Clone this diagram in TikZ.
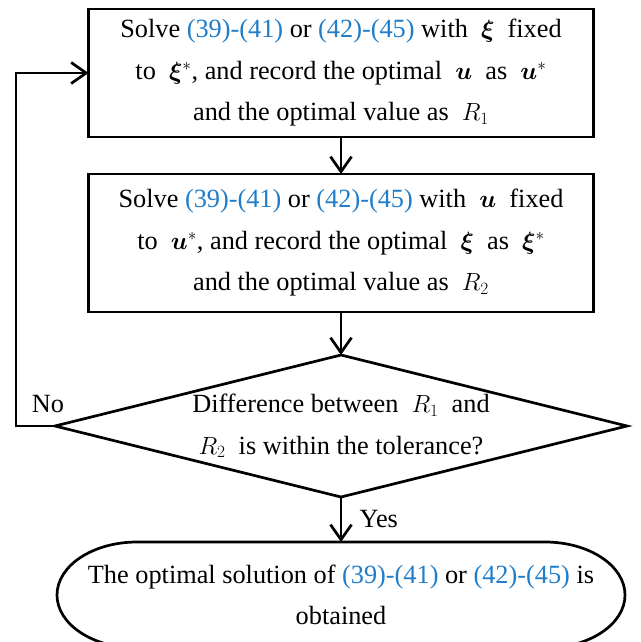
\documentclass[tikz,border=0pt]{standalone}
\usepackage{amsmath,bm}
\usepackage{fontspec}
\setmainfont{Liberation Serif}
\usepackage{xcolor}
\usepackage{tikz}
\usetikzlibrary{arrows.meta,calc,positioning,shapes.geometric}
\definecolor{refblue}{RGB}{31,125,201}
\newcommand{\bxi}{\bm{\xi}}
\newcommand{\bu}{\bm{u}}
\newcommand{\refno}[1]{\textcolor{refblue}{#1}}
\tikzset{line/.style={line width=2.7pt},
  box/.style={draw,line,align=center,minimum width=505pt,inner sep=0pt,outer sep=0pt},
  decision/.style={draw,line,diamond,aspect=4,align=center,minimum width=572pt,minimum height=142pt,inner sep=0pt,outer sep=0pt},
  arr/.style={line,-{Straight Barb[length=15pt,width=21pt]}}}

\begin{document}
\begin{tikzpicture}[x=1pt,y=1pt,font=\fontsize{26.3}{41.5}\selectfont]
\useasboundingbox (0,0) rectangle (640,-642);
\node[box,minimum height=128pt] (sol1) at (341,-73)
  {Solve \refno{(39)-(41)} or \refno{(42)-(45)} with\ \ $\bxi$\ \ fixed\\
   to\ \ $\bxi^{*}$, and record the optimal\ \ $\bu$\ \ as\ \ $\bu^{*}$\\
   and the optimal value as\ \ $R_1$};
\node[box,minimum height=138pt,below=37pt of sol1] (sol2)
  {Solve \refno{(39)-(41)} or \refno{(42)-(45)} with\ \ $\bu$\ \ fixed\\
   to\ \ $\bu^{*}$, and record the optimal\ \ $\bxi$\ \ as\ \ $\bxi^{*}$\\
   and the optimal value as\ \ $R_2$};
\node[decision,below=43pt of sol2] (check)
  {Difference between\ \ $R_1$\ \ and\\ $R_2$\ \ is within the tolerance?};
\node[align=center,minimum width=568pt,minimum height=106pt,outer sep=0pt,below=45pt of check] (done)
  {The optimal solution of \refno{(39)-(41)} or \refno{(42)-(45)} is\\ obtained};
% terminator outline
\draw[line] ($(done.north west)+(80,0)$) -- ($(done.north east)+(-80,0)$)
  arc[start angle=90,end angle=-90,x radius=80pt,y radius=53pt]
  -- ($(done.south west)+(80,0)$)
  arc[start angle=270,end angle=90,x radius=80pt,y radius=53pt] -- cycle;
\coordinate (loop) at (16,-426);
\draw[arr] (sol1) -- (sol2);
\draw[arr] (sol2) -- (check);
\draw[arr] (check.south) -- node[right=14pt] (yes) {Yes} (done.north);
\draw[arr] (check.west) -- (loop) |- (sol1.west);
\node (no) at (48,-404) {No};
\end{tikzpicture}
\end{document}
